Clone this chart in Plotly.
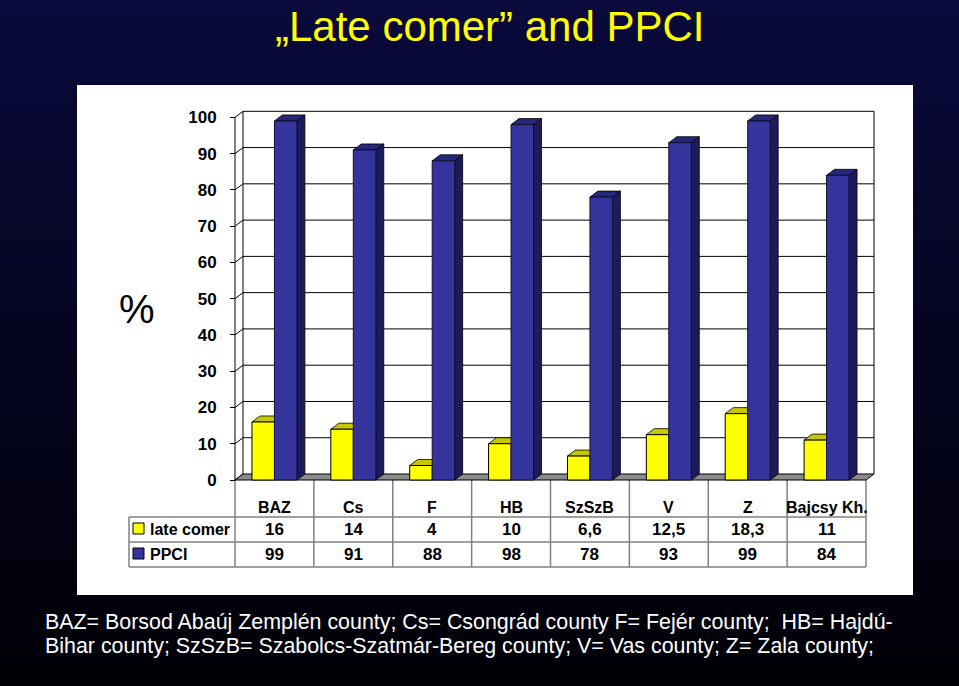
import plotly.graph_objects as go

# ---------------- data ----------------
categories = ["BAZ", "Cs", "F", "HB", "SzSzB", "V", "Z", "Bajcsy Kh."]
late_comer = [16, 14, 4, 10, 6.6, 12.5, 18.3, 11]
ppci = [99, 91, 88, 98, 78, 93, 99, 84]
series_names = ["late comer", "PPCI"]
y_ticks = [0, 10, 20, 30, 40, 50, 60, 70, 80, 90, 100]
title_text = "\u201eLate comer\u201d and PPCI"
caption_lines = [
    "BAZ= Borsod Aba\u00faj Zempl\u00e9n county; Cs= Csongr\u00e1d county F= Fej\u00e9r county;  HB= Hajd\u00fa-",
    "Bihar county; SzSzB= Szabolcs-Szatm\u00e1r-Bereg county; V= Vas county; Z= Zala county;",
]

# ---------------- geometry / style ----------------
W, H = 959, 686
XS = 78.875          # px per category
YS = 3.627           # px per % unit
X0PX = 235           # pixel of x = -0.5
Y0PX = 480           # pixel of y = 0
L, Rpx = 228, 880    # plot area left/right pixels
Tpx, Bpx = 106, 484  # plot area top/bottom pixels
PW, PH = Rpx - L, Bpx - Tpx
x_range = [-0.5 - (X0PX - L) / XS, -0.5 + (Rpx - X0PX) / XS]
y_range = [-(Bpx - Y0PX) / YS, (Y0PX - Tpx) / YS]

def paper_x(px):
    return (px - L) / PW

def paper_y(py):
    return (Bpx - py) / PH

dx = 8 / XS
dy = 6 / YS
bar_w = 0.285
n = len(categories)

YEL, YEL_TOP = "#ffff00", "#c8c800"
BLU, BLU_TOP, BLU_SIDE = "#34349c", "#26267a", "#1c1c5c"
FONT = "Liberation Sans, Arial, sans-serif"

shapes = []

# background gradient (slide)
N = 60
top_c = (10, 10, 60)
bot_c = (0, 0, 6)
for k in range(N):
    t = k / (N - 1)
    c = tuple(round(top_c[j] + (bot_c[j] - top_c[j]) * t) for j in range(3))
    py0 = H * k / N
    py1 = H * (k + 1) / N + 1
    shapes.append(dict(type="rect", xref="paper", yref="paper", layer="below",
                       x0=paper_x(0), x1=paper_x(W), y0=paper_y(py1), y1=paper_y(py0),
                       line=dict(width=0), fillcolor="rgb(%d,%d,%d)" % c))
# white panel
shapes.append(dict(type="rect", xref="paper", yref="paper", layer="below",
                   x0=paper_x(77), x1=paper_x(913), y0=paper_y(595), y1=paper_y(85),
                   line=dict(width=0), fillcolor="#ffffff"))

# table lines
TBL_C = "#808080"
row_lines = [517, 542, 567]
for py in row_lines:
    shapes.append(dict(type="line", xref="paper", yref="paper", layer="below",
                       x0=paper_x(129), x1=paper_x(X0PX + n * XS),
                       y0=paper_y(py), y1=paper_y(py), line=dict(color=TBL_C, width=1.5)))
for i in range(n + 1):
    shapes.append(dict(type="line", xref="x", yref="paper", layer="below",
                       x0=i - 0.5, x1=i - 0.5, y0=paper_y(Y0PX), y1=paper_y(567),
                       line=dict(color=TBL_C, width=1.5)))
shapes.append(dict(type="line", xref="paper", yref="paper", layer="below",
                   x0=paper_x(129), x1=paper_x(129), y0=paper_y(517), y1=paper_y(567),
                   line=dict(color=TBL_C, width=1.5)))
# legend keys
for (py0, py1), col in zip([(523, 534), (548, 559)], [YEL, BLU]):
    shapes.append(dict(type="rect", xref="paper", yref="paper", layer="below",
                       x0=paper_x(133), x1=paper_x(144), y0=paper_y(py1), y1=paper_y(py0),
                       line=dict(color="#000000", width=1), fillcolor=col))

# walls and gridlines (data coords)
GL = dict(color="#000000", width=1)
xl, xr = -0.5, n - 0.5
for v in y_ticks[1:]:
    shapes.append(dict(type="line", xref="x", yref="y", layer="below",
                       x0=xl + dx, x1=xr + dx, y0=v + dy, y1=v + dy, line=GL))
for v in y_ticks:
    shapes.append(dict(type="line", xref="x", yref="y", layer="below",
                       x0=xl, x1=xl + dx, y0=v, y1=v + dy, line=GL))
for xe in (xl + dx, xr + dx):
    shapes.append(dict(type="line", xref="x", yref="y", layer="below",
                       x0=xe, x1=xe, y0=dy, y1=y_ticks[-1] + dy, line=GL))
shapes.append(dict(type="line", xref="x", yref="y", layer="below",
                   x0=xl, x1=xl, y0=0, y1=y_ticks[-1], line=GL))
# floor
shapes.append(dict(type="path", xref="x", yref="y", layer="below",
                   path="M %f,0 L %f,0 L %f,%f L %f,%f Z" % (xl, xr, xr + dx, dy, xl + dx, dy),
                   fillcolor="#8c8c8c", line=dict(color="#000000", width=1)))

# 3D faces for bars
def top_face(x0, x1, v, col):
    return dict(type="path", xref="x", yref="y", layer="below",
                path="M %f,%f L %f,%f L %f,%f L %f,%f Z" % (x0, v, x1, v, x1 + dx, v + dy, x0 + dx, v + dy),
                fillcolor=col, line=dict(color="#000000", width=0.8))

def side_face(x1, v, col):
    return dict(type="path", xref="x", yref="y", layer="below",
                path="M %f,0 L %f,%f L %f,%f L %f,%f Z" % (x1, x1, v, x1 + dx, v + dy, x1 + dx, dy),
                fillcolor=col, line=dict(color="#000000", width=0.8))

for i in range(n):
    shapes.append(side_face(i, late_comer[i], YEL_TOP))
    shapes.append(top_face(i - bar_w, i, late_comer[i], YEL_TOP))
    shapes.append(side_face(i + bar_w, ppci[i], BLU_SIDE))
    shapes.append(top_face(i, i + bar_w, ppci[i], BLU_TOP))

fig = go.Figure()
xpos = list(range(n))
fig.add_trace(go.Bar(x=xpos, y=late_comer, width=bar_w, offset=-bar_w, name=series_names[0],
                     marker=dict(color=YEL, line=dict(color="#000000", width=1)),
                     hoverinfo="skip", showlegend=False))
fig.add_trace(go.Bar(x=xpos, y=ppci, width=bar_w, offset=0, name=series_names[1],
                     marker=dict(color=BLU, line=dict(color="#101030", width=1)),
                     hoverinfo="skip", showlegend=False))

def fmt(v):
    return str(int(v)) if float(v).is_integer() else str(v).replace(".", ",")

ann = []
ann.append(dict(text=title_text, xref="paper", yref="paper", x=paper_x(490), y=paper_y(26),
                xanchor="center", yanchor="middle", showarrow=False,
                font=dict(family=FONT, size=42, color="#ffff00")))
ann.append(dict(text="%", xref="paper", yref="paper", x=paper_x(137), y=paper_y(309),
                xanchor="center", yanchor="middle", showarrow=False,
                font=dict(family=FONT, size=40, color="#000000")))
for i, c in enumerate(categories):
    ann.append(dict(text="<b>%s</b>" % c, xref="x", yref="paper", x=i, y=paper_y(507),
                    xanchor="center", yanchor="middle", showarrow=False,
                    font=dict(family=FONT, size=16, color="#000000")))
    ann.append(dict(text="<b>%s</b>" % fmt(late_comer[i]), xref="x", yref="paper", x=i, y=paper_y(529),
                    xanchor="center", yanchor="middle", showarrow=False,
                    font=dict(family=FONT, size=17, color="#000000")))
    ann.append(dict(text="<b>%s</b>" % fmt(ppci[i]), xref="x", yref="paper", x=i, y=paper_y(554),
                    xanchor="center", yanchor="middle", showarrow=False,
                    font=dict(family=FONT, size=17, color="#000000")))
for name, py in zip(series_names, [529, 554]):
    ann.append(dict(text="<b>%s</b>" % name, xref="paper", yref="paper", x=paper_x(148), y=paper_y(py),
                    xanchor="left", yanchor="middle", showarrow=False,
                    font=dict(family=FONT, size=16, color="#000000")))
for line, py in zip(caption_lines, [622, 646]):
    ann.append(dict(text=line, xref="paper", yref="paper", x=paper_x(43), y=paper_y(py),
                    xanchor="left", yanchor="middle", showarrow=False,
                    font=dict(family=FONT, size=21.4, color="#ffffff")))

fig.update_layout(
    width=W, height=H,
    margin=dict(l=L, r=W - Rpx, t=Tpx, b=H - Bpx, pad=0),
    paper_bgcolor="#000010", plot_bgcolor="rgba(0,0,0,0)",
    barmode="overlay", showlegend=False,
    shapes=shapes, annotations=ann,
    xaxis=dict(range=x_range, visible=False, fixedrange=True),
    yaxis=dict(range=y_range, anchor="free", position=paper_x(X0PX), side="left",
               tickmode="array", tickvals=y_ticks, ticks="outside", ticklen=5,
               tickcolor="#000000", showgrid=False, zeroline=False, showline=False,
               ticklabelstandoff=10,
               tickfont=dict(family=FONT, size=17, color="#000000", weight="bold"),
               fixedrange=True),
)
fig.write_html("out.html")
